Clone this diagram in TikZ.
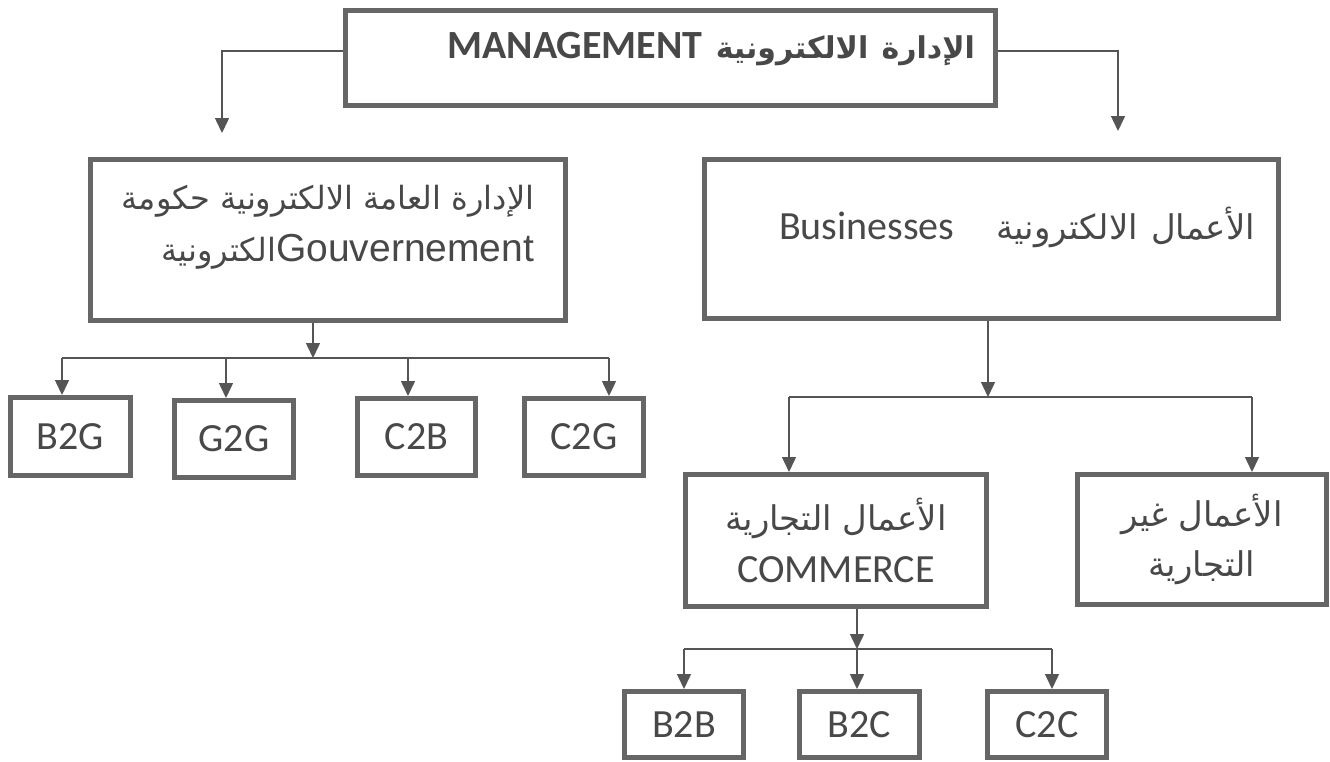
\documentclass[tikz,border=0pt]{standalone}
\usepackage{fontspec}
\setmainfont{Carlito}
\newfontfamily\arabicfont[Script=Arabic]{DejaVu Sans}
\newfontfamily\arialfont{Liberation Sans}
\TeXXeTstate=1
\usetikzlibrary{arrows.meta,positioning}
\definecolor{boxgray}{RGB}{102,102,102}
\definecolor{linkgray}{RGB}{85,85,85}
\definecolor{inkgray}{RGB}{72,72,72}

\begin{document}
\begin{tikzpicture}[
    x=1pt, y=-1pt,
    box/.style={rectangle, draw=boxgray, line width=5pt, fill=white, text=inkgray, inner sep=0pt, font=\fontsize{40}{52}\selectfont},
    arrow/.style={->, >={Triangle[length=15pt, width=14pt]}, line width=1.5pt, draw=linkgray},
    link/.style={line width=1.5pt, draw=linkgray}
]
\useasboundingbox (0,0) rectangle (1330,761);

% top level
\node[box, minimum width=650pt, minimum height=95pt, text width=610pt, align=right, text height=30pt, text depth=30pt] (mgmt) at (670,58)
    {\bfseries\beginR{\arabicfont\fontsize{30}{40}\selectfont الإدارة الالكترونية} \beginL MANAGEMENT\endL\endR};

% second level
\node[box, minimum width=475pt, minimum height=161pt, align=right, text depth=34pt] (gov) at (328,240)
    {{\arabicfont\fontsize{32}{55}\selectfont\beginR الإدارة العامة الالكترونية حكومة\endR}\\
     \beginR\beginL{\arialfont\fontsize{39}{55}\selectfont Gouvernement}\endL{\arabicfont\fontsize{32}{55}\selectfont الكترونية}\endR};
\node[box, minimum width=574pt, minimum height=159pt, text width=527pt, align=right, text height=30pt, text depth=30pt] (biz) at (991.5,239)
    {\beginR{\arabicfont\fontsize{34}{40}\selectfont الأعمال الالكترونية}\hspace{42pt}\beginL Businesses\endL\endR};

% government sub-boxes
\node[box, minimum width=120pt, minimum height=78pt] (b2g) at (70.5,436.5) {B2G};
\node[box, minimum width=119pt, minimum height=77pt] (g2g) at (234,439) {G2G};
\node[box, minimum width=118pt, minimum height=77pt] (c2b) at (416.5,437) {C2B};
\node[box, minimum width=119pt, minimum height=77pt] (c2g) at (584,437) {C2G};

% business sub-boxes
\node[box, minimum width=301pt, minimum height=132pt, align=center] (comm) at (836,540.5)
    {{\arabicfont\fontsize{34}{50}\selectfont\beginR الأعمال التجارية\endR}\\COMMERCE};
\node[box, minimum width=249pt, minimum height=130pt, align=center, font=\fontsize{34}{50}\selectfont\arabicfont] (noncomm) at (1202,539.5)
    {\beginR الأعمال غير\endR\\\beginR التجارية\endR};

% commerce sub-boxes
\node[box, minimum width=119pt, minimum height=66pt] (b2b) at (684,724.5) {B2B};
\node[box, minimum width=120pt, minimum height=66pt] (b2c) at (859.5,724.5) {B2C};
\node[box, minimum width=119pt, minimum height=66pt] (c2c) at (1047,724.5) {C2C};

% connectors from the top box
\coordinate (govin) at (222,133);
\coordinate (bizin) at (1118,131);
\draw[arrow] ([yshift=7pt]mgmt.west) -| (govin);
\draw[arrow] ([yshift=7pt]mgmt.east) -| (bizin);

% government split
\coordinate (govsplit) at (313,358);
\coordinate (govleft) at (62,358);
\coordinate (govright) at (609,358);
\draw[arrow] (gov.south -| govsplit) -- (govsplit);
\draw[link] (govleft) -- (govright);
\foreach \x/\n in {62/b2g, 226/g2g, 408/c2b, 609/c2g} {
    \coordinate (s\n) at (\x,358);
    \draw[arrow] (s\n) -- (s\n |- \n.north);
}

% business split
\coordinate (bizsplit) at (988,397);
\coordinate (bizleft) at (789,397);
\coordinate (bizright) at (1252,397);
\draw[arrow] (biz.south -| bizsplit) -- (bizsplit);
\draw[link] (bizleft) -- (bizright);
\draw[arrow] (bizleft) -- (bizleft |- comm.north);
\draw[arrow] (bizright) -- (bizright |- noncomm.north);

% commerce split
\coordinate (commsplit) at (857,649);
\coordinate (commleft) at (684,649);
\coordinate (commright) at (1052,649);
\draw[arrow] (comm.south -| commsplit) -- (commsplit);
\draw[link] (commleft) -- (commright);
\foreach \x/\n in {684/b2b, 857/b2c, 1052/c2c} {
    \coordinate (s\n) at (\x,649);
    \draw[arrow] (s\n) -- (s\n |- \n.north);
}

\end{tikzpicture}
\end{document}
